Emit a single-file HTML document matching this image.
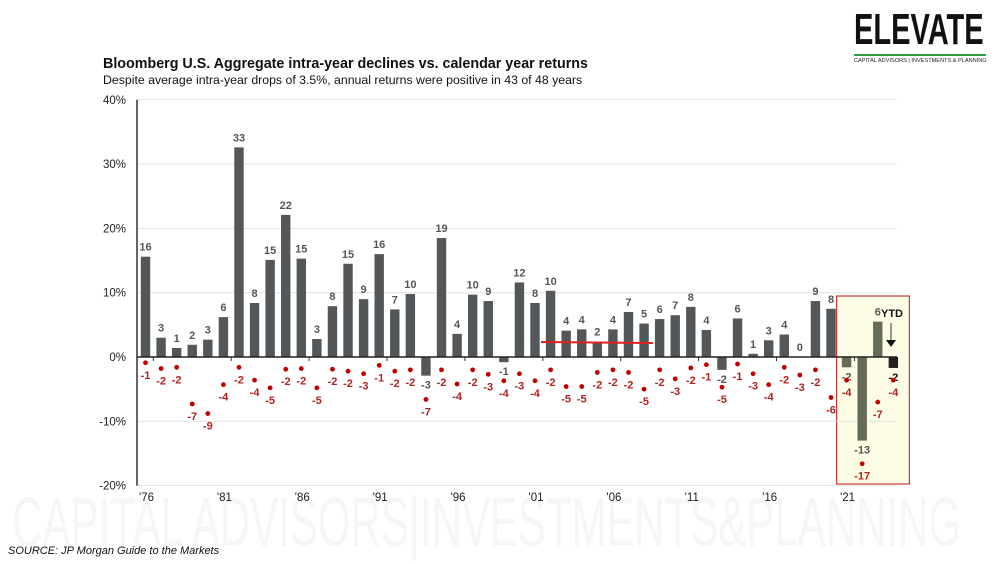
<!DOCTYPE html>
<html><head><meta charset="utf-8"><style>
body{margin:0;width:1000px;height:564px;background:#fff;overflow:hidden;font-family:"Liberation Sans",sans-serif;position:relative}
.wm{position:absolute;color:#f6f6f6;font-family:"Liberation Sans",sans-serif;white-space:nowrap}
</style></head><body>
<div class="wm" style="left:12px;top:482px;font-size:70px;transform:scaleX(0.6);transform-origin:left">CAPITAL ADVISORS|INVESTMENTS&amp;PLANNING</div>
<div style="position:absolute;left:854px;top:8px;width:136px;overflow:hidden">
 <div style="font-size:44px;font-weight:bold;color:#111;line-height:44px;white-space:nowrap;transform:scaleX(0.66);transform-origin:left">ELEVATE</div>
 <div style="height:2px;background:#2a9d3a;width:132px;margin-top:2px"></div>
 <div style="font-size:5.6px;color:#222;margin-top:2px;white-space:nowrap">CAPITAL ADVISORS | INVESTMENTS &amp; PLANNING</div>
</div>
<div style="position:absolute;left:103px;top:56px;font-size:14.3px;font-weight:bold;color:#111">Bloomberg U.S. Aggregate intra-year declines vs. calendar year returns</div>
<div style="position:absolute;left:103px;top:73px;font-size:12.3px;color:#111">Despite average intra-year drops of 3.5%, annual returns were positive in 43 of 48 years</div>
<div style="position:absolute;left:8px;top:545px;font-size:11px;font-style:italic;color:#111">SOURCE: JP Morgan Guide to the Markets</div>
<svg id="chart" width="1000" height="564" style="position:absolute;left:0;top:0"></svg>
<script>
const years=[1976,1977,1978,1979,1980,1981,1982,1983,1984,1985,1986,1987,1988,1989,1990,1991,1992,1993,1994,1995,1996,1997,1998,1999,2000,2001,2002,2003,2004,2005,2006,2007,2008,2009,2010,2011,2012,2013,2014,2015,2016,2017,2018,2019,2020,2021,2022,2023,2024];
const returns=[15.6,3.0,1.4,1.9,2.7,6.2,32.6,8.4,15.1,22.1,15.3,2.8,7.9,14.5,9.0,16.0,7.4,9.8,-2.9,18.5,3.6,9.7,8.7,-0.8,11.6,8.4,10.3,4.1,4.3,2.4,4.3,7.0,5.2,5.9,6.5,7.8,4.2,-2.0,6.0,0.5,2.6,3.5,0.0,8.7,7.5,-1.6,-13.0,5.5,-1.7];
const declines=[-0.9,-1.8,-1.6,-7.3,-8.8,-4.3,-1.6,-3.6,-4.8,-1.9,-1.8,-4.8,-1.9,-2.2,-2.6,-1.3,-2.2,-2.0,-6.6,-2.0,-4.2,-2.0,-2.7,-3.7,-2.6,-3.7,-2.0,-4.6,-4.6,-2.4,-2.0,-2.4,-5.0,-2.0,-3.4,-1.7,-1.2,-4.7,-1.1,-2.6,-4.3,-1.6,-2.8,-2.0,-6.3,-3.6,-16.6,-7.0,-3.6];
const yTicks=[40,30,20,10,0,-10,-20];
const svg=document.getElementById('chart');const NS='http://www.w3.org/2000/svg';
const X0=145.5,STEP=15.58,Y0=357,PX=6.43;
const x=i=>X0+i*STEP;const y=v=>Y0-v*PX;
function mk(t,a,txt){const e=document.createElementNS(NS,t);for(const k in a)e.setAttribute(k,a[k]);if(txt!==undefined)e.textContent=txt;svg.appendChild(e);return e;}
const hb=mk('rect',{x:x(45)-10,y:296,width:x(48)-x(45)+26,height:188,fill:'#fdfde6',stroke:'#c8383a','stroke-width':1.2});


yTicks.forEach(t=>{
 if(t!==0){const g=mk('line',{x1:137,x2:897,y1:y(t),y2:y(t),stroke:'#e2e2e2','stroke-width':1});
 
 }
 const l=mk('text',{x:126,y:y(t)+4,'text-anchor':'end','font-size':11.5,fill:'#222'},t+'%');
 
 
});
const ax=mk('line',{x1:137,x2:137,y1:y(40),y2:y(-20),stroke:'#333','stroke-width':1.5});


years.forEach((yr,i)=>{
 const v=returns[i],cx=x(i);
 let fill=i>=45&&i<=47?'#666b58':(i===48?'#231f1c':'#54575a');
 const b=mk('rect',{x:cx-4.7,y:Math.min(y(v),Y0),width:9.4,height:Math.abs(y(v)-Y0),fill:fill});
 
 
 const lbl=mk('text',{x:cx,y:v>=0?y(v)-6:y(v)+13,'text-anchor':'middle','font-size':11,'font-weight':'bold',fill:i===48?'#111':'#555'},Math.round(v));
 
 
 const d=declines[i];
 const dot=mk('circle',{cx:cx,cy:y(d),r:2.4,fill:'#c00000'});
 
 
 const dl=mk('text',{x:cx,y:y(d)+16,'text-anchor':'middle','font-size':11,'font-weight':'bold',fill:'#b22222'},Math.round(d));
 
 
 if((yr-1976)%5===0){
  const t=mk('text',{x:cx+1,y:501,'text-anchor':'middle','font-size':11.5,fill:'#222'},"'"+String(yr).slice(2));
  
  
  const tk=mk('line',{x1:cx+7.8,x2:cx+7.8,y1:Y0,y2:Y0+4,stroke:'#333'});
  
  
 }
});
const zl=mk('line',{x1:137,x2:897,y1:Y0,y2:Y0,stroke:'#222','stroke-width':1.5});


const rl=mk('line',{x1:541,x2:653,y1:342,y2:343,stroke:'#e02020','stroke-width':2});


const ytd=mk('text',{x:892,y:317,'text-anchor':'middle','font-size':11,'font-weight':'bold',fill:'#111'},'YTD');


const ar=mk('line',{x1:891,x2:891,y1:323,y2:340,stroke:'#333','stroke-width':1});


const ah=mk('path',{d:'M886,340 L896,340 L891,347 Z',fill:'#111'});


</script>
</body></html>
